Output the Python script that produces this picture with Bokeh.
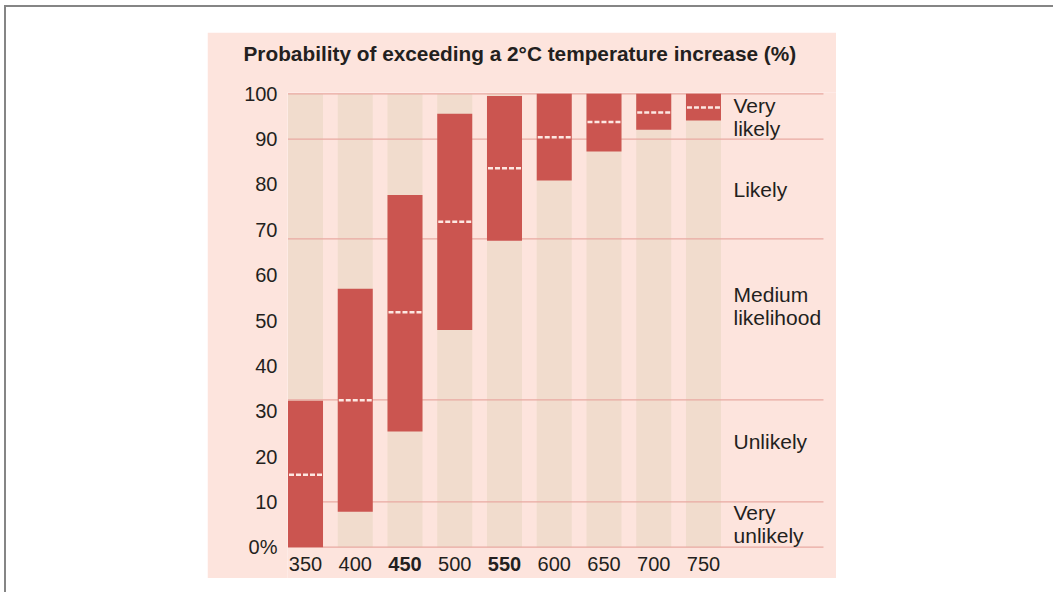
from bokeh.plotting import figure
from bokeh.models import Range1d, FixedTicker, Spacer, ColumnDataSource
from bokeh.layouts import column, row
from bokeh.embed import file_html
from bokeh.resources import INLINE

# ---- data ----
title_text = "Probability of exceeding a 2°C temperature increase (%)"
concentrations = [350, 400, 450, 500, 550, 600, 650, 700, 750]
conc_labels = ["350", "400", "450", "500", "550", "600", "650", "700", "750"]
bold_concentrations = [450, 550]
low = [0, 7.8, 25.5, 47.9, 67.6, 80.9, 87.3, 92.1, 94.1]
high = [32.3, 57.0, 77.7, 95.6, 99.5, 100, 100, 100, 100]
median = [16.0, 32.4, 51.8, 71.8, 83.6, 90.4, 93.8, 95.9, 97.0]
band_lines = [0, 10, 32.5, 68, 90, 100]
band_labels = ["Very\nlikely", "Likely", "Medium\nlikelihood", "Unlikely", "Very\nunlikely"]
band_label_y = [94.8, 78.9, 53.3, 23.3, 5.1]
y_ticks = [0, 10, 20, 30, 40, 50, 60, 70, 80, 90, 100]

# ---- style ----
PINK = "#fde4dd"
BEIGE = "#f1dccd"
RED = "#cb5550"
GRID = "#e8aaa2"
TEXT = "#231f20"
FONT = "Liberation Sans"
BAR_W = 35.2

p = figure(width=629, height=546, output_backend="svg", toolbar_location=None,
           x_range=Range1d(331.9, 883.7), y_range=Range1d(-6.9, 100.29),
           min_border_left=80, min_border_right=0, min_border_top=60, min_border_bottom=0,
           title=title_text)
p.background_fill_color = PINK
p.border_fill_color = PINK
p.outline_line_color = None
p.xgrid.visible = False
p.ygrid.visible = False
p.xaxis.visible = False

p.title.text_font = FONT
p.title.text_font_size = "20.8px"
p.title.text_font_style = "bold"
p.title.text_color = TEXT
p.title.align = "left"
p.title.offset = -44
p.title.standoff = 0
p.title.padding = dict(top=0, right=0, bottom=28, left=0)

ya = p.yaxis[0]
ya.ticker = FixedTicker(ticks=y_ticks)
ya.major_label_overrides = {0: "0%"}
ya.axis_line_color = None
ya.major_tick_line_color = None
ya.minor_tick_line_color = None
ya.major_tick_out = 0
ya.major_tick_in = 0
ya.major_label_standoff = 10
ya.major_label_text_font = FONT
ya.major_label_text_font_size = "20px"
ya.major_label_text_color = TEXT

# background columns
p.vbar(x=concentrations, top=[100] * len(concentrations), bottom=0, width=BAR_W,
       fill_color=BEIGE, line_color=None)

# likelihood band lines
x_left = concentrations[0] - BAR_W / 2
x_right = 870.6
p.segment(x0=[x_left] * len(band_lines), x1=[x_right] * len(band_lines),
          y0=band_lines, y1=band_lines, line_color=GRID, line_width=1.2)

# range bars
p.vbar(x=concentrations, top=high, bottom=low, width=BAR_W,
       fill_color=RED, line_color=None)

# medians
p.segment(x0=[c - BAR_W / 2 + 1 for c in concentrations],
          x1=[c + BAR_W / 2 - 1 for c in concentrations],
          y0=median, y1=median, line_color="#fde8e2", line_width=2.5, line_dash="5 2")

# x labels
src = ColumnDataSource(dict(
    x=concentrations, y=[-3.8] * len(concentrations), t=conc_labels,
    style=["bold" if c in bold_concentrations else "normal" for c in concentrations]))
p.text(x="x", y="y", text="t", source=src, text_font_style="style",
       text_align="center", text_baseline="middle", text_font_size="20px",
       text_color=TEXT, text_font={"value": FONT})

# band labels
p.text(x=[780.2] * len(band_labels), y=band_label_y, text=band_labels,
       text_align="left", text_baseline="middle", text_font_size="21px",
       text_line_height=1.0, text_color=TEXT, text_font={"value": FONT})

layout = column(Spacer(height=32), row(Spacer(width=207), p))

html = file_html(layout, INLINE)
border = ('<div style="position:fixed;left:4px;top:5px;right:0;bottom:0;'
          'border-left:2px solid #858585;border-top:2px solid #858585;'
          'pointer-events:none"></div>')
html = html.replace("</body>", border + "</body>")
open("out.html", "w").write(html)
